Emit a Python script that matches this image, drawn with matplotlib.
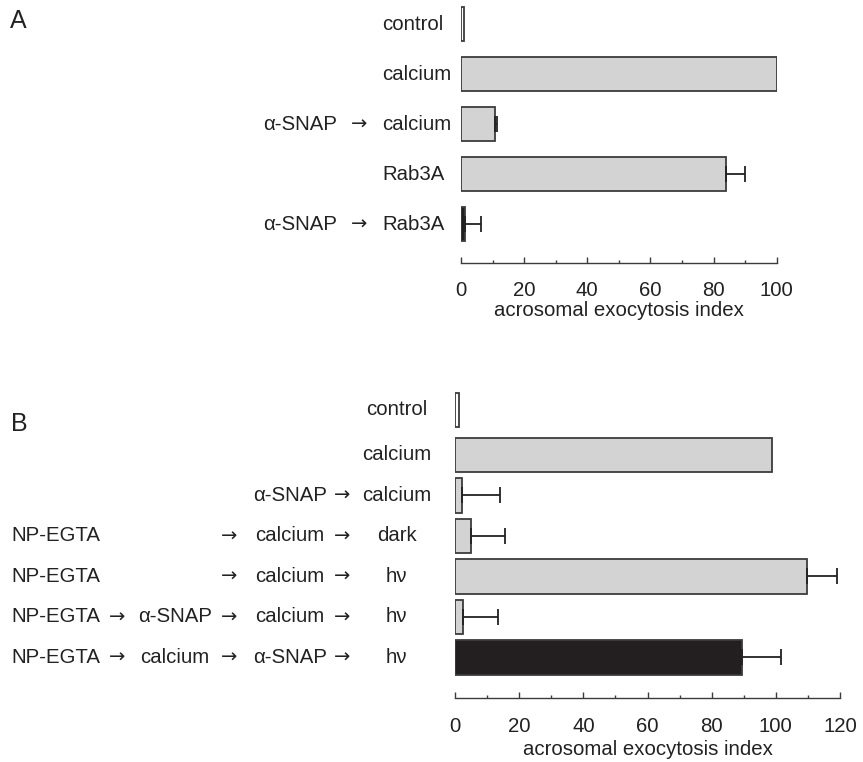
import matplotlib
matplotlib.use("Agg")
import matplotlib.pyplot as plt
import matplotlib.transforms as mtransforms
import numpy as np

plt.rcParams['font.family'] = ['Liberation Sans', 'DejaVu Sans']

# ---------------- data ----------------
A_pre = ["", "", "α-SNAP", "", "α-SNAP"]
A_main = ["control", "calcium", "calcium", "Rab3A", "Rab3A"]
A_values = [1.0, 100.0, 10.8, 84.0, 1.3]
A_err = [0.0, 0.0, 0.5, 6.0, 5.0]
A_fill = ["white", "gray", "gray", "gray", "black"]
A_ticks = [0, 20, 40, 60, 80, 100]

B_col1 = ["", "", "", "NP-EGTA", "NP-EGTA", "NP-EGTA", "NP-EGTA"]
B_col2 = ["", "", "", "", "", "α-SNAP", "calcium"]
B_col3 = ["", "", "α-SNAP", "calcium", "calcium", "calcium", "α-SNAP"]
B_col4 = ["control", "calcium", "calcium", "dark", "hν", "hν", "hν"]
B_values = [1.2, 98.7, 2.2, 4.9, 109.6, 2.4, 89.6]
B_err = [0.0, 0.0, 11.8, 10.8, 9.6, 11.0, 11.9]
B_fill = ["white", "gray", "gray", "gray", "gray", "gray", "black"]
B_ticks = [0, 20, 40, 60, 80, 100, 120]

ARROW = "→"
W, H = 863, 762
FS = 14.7
TXT = "#222222"
EDGE = "#3c3c3c"
COLORS = {"white": "white", "gray": "#d3d3d3", "black": "#231f20"}

fig = plt.figure(figsize=(W / 100, H / 100), dpi=100)


def px_rect(x0, x1, ytop, ybot):
    return [x0 / W, (H - ybot) / H, (x1 - x0) / W, (ybot - ytop) / H]


def style_axis(ax, xmax, ticks, pad, labelpad):
    for s in ("left", "right", "top"):
        ax.spines[s].set_visible(False)
    ax.spines["bottom"].set_color(EDGE)
    ax.spines["bottom"].set_linewidth(1.0)
    ax.set_xlim(0, xmax)
    ax.set_xticks(ticks)
    ax.set_xticks(np.arange(0, xmax + 1, 10), minor=True)
    ax.set_yticks([])
    ax.tick_params(axis="x", which="major", direction="in", length=4.2, width=1.0,
                   color=EDGE, labelsize=FS, labelcolor=TXT, pad=pad)
    ax.tick_params(axis="x", which="minor", direction="in", length=2.2, width=1.0,
                   color=EDGE)
    ax.set_xlabel("acrosomal exocytosis index", fontsize=FS, color=TXT,
                  labelpad=labelpad)


def draw_bars(ax, pos, values, errs, fills, height):
    cols = [COLORS[f] for f in fills]
    ax.barh(pos, values, height=height, color=cols, edgecolor=EDGE,
            linewidth=1.3, zorder=2)
    pos = np.asarray(pos)
    v = np.asarray(values)
    e = np.asarray(errs)
    m = e > 0
    ax.errorbar(v[m], pos[m], xerr=[np.zeros(m.sum()), e[m]], fmt="none",
                ecolor="#222222", elinewidth=1.3, capsize=5.5, capthick=1.3,
                zorder=3)


def put(ax, tr, x, y, s, ha, arrow=False):
    if arrow:
        ax.text(x / W, y, s, transform=tr, ha=ha, va="center", fontsize=14,
                color=TXT, clip_on=False, family=["DejaVu Sans"])
    else:
        ax.text(x / W, y, s, transform=tr, ha=ha, va="center", fontsize=FS,
                color=TXT, clip_on=False)


# ---------------- Panel A ----------------
axA = fig.add_axes(px_rect(461, 776.7, 0, 263.3))
posA = np.arange(len(A_values))
draw_bars(axA, posA, A_values, A_err, A_fill, 0.67)
axA.set_ylim(4.786, -0.48)
style_axis(axA, 100, A_ticks, 12.5, 1)

trA = mtransforms.blended_transform_factory(fig.transFigure, axA.transData)
for i in range(len(A_main)):
    if A_pre[i]:
        put(axA, trA, 263.3, posA[i], A_pre[i], "left")
        put(axA, trA, 359.5, posA[i], ARROW, "center", arrow=True)
    put(axA, trA, 382.5, posA[i], A_main[i], "left")

fig.text(10 / W, 1 - 21 / H, "A", fontsize=18, color=TXT, ha="left", va="center")

# ---------------- Panel B ----------------
axB = fig.add_axes(px_rect(455, 840, 388, 698.3))
posB = np.array([0.0, 1.11, 2.11, 3.11, 4.11, 5.11, 6.11])
draw_bars(axB, posB, B_values, B_err, B_fill, 0.85)
axB.set_ylim(7.118, -0.543)
style_axis(axB, 120, B_ticks, 13.5, 3)

trB = mtransforms.blended_transform_factory(fig.transFigure, axB.transData)
for i in range(len(B_col4)):
    y = posB[i]
    if B_col1[i]:
        put(axB, trB, 11.7, y, B_col1[i], "left")
    if B_col2[i]:
        put(axB, trB, 116.7, y, ARROW, "center", arrow=True)
        put(axB, trB, 175, y, B_col2[i], "center")
    if B_col1[i]:
        put(axB, trB, 229, y, ARROW, "center", arrow=True)
    if B_col3[i]:
        put(axB, trB, 290, y, B_col3[i], "center")
        put(axB, trB, 342.3, y, ARROW, "center", arrow=True)
    put(axB, trB, 396.7, y, B_col4[i], "center")

fig.text(11 / W, 1 - 424 / H, "B", fontsize=18, color=TXT, ha="left", va="center")

fig.savefig("out.png", dpi=100)
